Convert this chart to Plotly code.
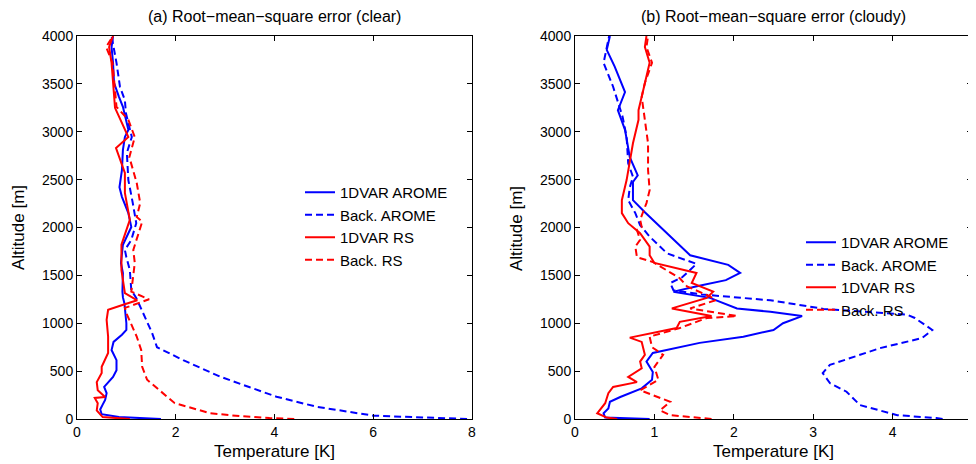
import plotly.graph_objects as go

# ---------------- data ----------------
# (a) clear
clear_1dvar_arome_alt = [0, 20, 50, 100, 150, 200, 270, 335, 440, 510, 615, 720, 805, 880, 930, 1000, 1210, 1270, 1330, 1525, 1630, 1820, 1940, 2005, 2150, 2320, 2420, 2600, 2810, 2945, 3020, 3260, 3365, 3510, 3720, 3885, 4000]
clear_1dvar_arome_T = [1.70, 0.85, 0.50, 0.47, 0.52, 0.57, 0.60, 0.55, 0.73, 0.80, 0.80, 0.70, 0.74, 0.91, 1.00, 1.00, 0.96, 0.93, 0.92, 0.93, 0.89, 0.93, 1.04, 1.10, 1.04, 0.91, 0.86, 0.91, 0.93, 0.97, 1.04, 0.93, 0.85, 0.75, 0.73, 0.70, 0.73]

clear_back_arome_alt = [0, 15, 35, 128, 233, 331, 442, 615, 750, 900, 1100, 1265, 1345, 1555, 1690, 1765, 1870, 2045, 2255, 2495, 2780, 2945, 3195, 3330, 3470, 3720, 4000]
clear_back_arome_T = [7.90, 7.00, 6.00, 4.85, 4.04, 3.50, 2.90, 2.15, 1.62, 1.52, 1.34, 1.20, 1.10, 1.07, 1.00, 0.97, 1.10, 1.20, 1.13, 1.04, 1.01, 1.11, 0.99, 0.97, 0.87, 0.80, 0.70]

clear_1dvar_rs_alt = [0, 20, 90, 165, 220, 230, 300, 385, 480, 545, 690, 860, 1035, 1140, 1190, 1240, 1315, 1420, 1555, 1820, 2080, 2360, 2570, 2830, 2945, 3250, 3500, 3720, 3885, 4000]
clear_1dvar_rs_T = [1.07, 0.52, 0.40, 0.42, 0.36, 0.57, 0.42, 0.40, 0.50, 0.50, 0.63, 0.63, 0.60, 0.63, 0.92, 1.22, 0.97, 0.94, 0.90, 0.90, 1.07, 0.97, 0.97, 0.79, 1.04, 0.77, 0.74, 0.70, 0.65, 0.73]

clear_back_rs_alt = [0, 10, 30, 60, 165, 300, 410, 545, 720, 860, 960, 1105, 1160, 1250, 1330, 1630, 1765, 1940, 2060, 2110, 2255, 2465, 2735, 2945, 3125, 3260, 3510, 3720, 3885, 4000]
clear_back_rs_T = [4.40, 3.90, 3.30, 2.70, 1.98, 1.68, 1.42, 1.32, 1.30, 1.21, 1.12, 1.00, 0.97, 1.46, 1.10, 1.17, 1.14, 1.24, 1.32, 1.21, 1.28, 1.21, 1.06, 1.17, 1.04, 0.80, 0.75, 0.72, 0.59, 0.73]

# (b) cloudy
cloudy_1dvar_arome_alt = [0, 15, 60, 110, 180, 230, 320, 410, 490, 600, 690, 720, 795, 860, 930, 1000, 1075, 1120, 1155, 1265, 1330, 1390, 1450, 1525, 1610, 1710, 1905, 2005, 2160, 2285, 2475, 2545, 2735, 3020, 3225, 3415, 3680, 3855, 4000]
cloudy_1dvar_arome_T = [0.94, 0.38, 0.36, 0.42, 0.44, 0.57, 0.84, 0.97, 0.98, 0.90, 0.98, 1.16, 1.57, 2.12, 2.50, 2.62, 2.86, 2.46, 2.04, 1.70, 1.24, 1.55, 1.90, 2.08, 1.93, 1.45, 1.20, 1.07, 0.88, 0.73, 0.73, 0.79, 0.69, 0.63, 0.54, 0.63, 0.50, 0.40, 0.44]

cloudy_back_arome_alt = [0, 10, 40, 145, 285, 375, 480, 565, 740, 845, 930, 1055, 1090, 1150, 1240, 1265, 1300, 1345, 1420, 1480, 1620, 1730, 1905, 2025, 2150, 2285, 2420, 2530, 2670, 2945, 3155, 3470, 3720, 4000]
cloudy_back_arome_T = [4.63, 4.55, 4.06, 3.59, 3.42, 3.21, 3.12, 3.21, 3.84, 4.37, 4.50, 4.28, 4.18, 3.13, 2.46, 2.08, 1.60, 1.24, 1.20, 1.35, 1.53, 1.16, 0.94, 0.82, 0.76, 0.67, 0.69, 0.73, 0.67, 0.65, 0.60, 0.48, 0.36, 0.43]

cloudy_1dvar_rs_alt = [0, 15, 60, 165, 270, 335, 385, 440, 530, 600, 670, 805, 850, 950, 1015, 1075, 1155, 1265, 1330, 1420, 1525, 1630, 1710, 1800, 1940, 2045, 2150, 2285, 2495, 2670, 2880, 3125, 3225, 3365, 3575, 3720, 3885, 4000]
cloudy_1dvar_rs_T = [0.53, 0.40, 0.28, 0.38, 0.42, 0.48, 0.78, 0.67, 0.84, 0.82, 0.88, 0.84, 0.69, 1.28, 1.32, 1.72, 1.22, 1.66, 1.74, 1.47, 1.53, 1.00, 0.94, 0.94, 0.82, 0.67, 0.59, 0.59, 0.65, 0.69, 0.73, 0.80, 0.80, 0.84, 0.90, 0.94, 0.88, 0.90]

cloudy_back_rs_alt = [0, 40, 90, 180, 300, 410, 545, 670, 750, 860, 950, 1055, 1075, 1155, 1240, 1280, 1385, 1470, 1640, 1690, 1800, 1870, 1975, 2005, 2080, 2255, 2390, 2600, 2880, 3155, 3365, 3510, 3720, 3885, 4000]
cloudy_back_rs_T = [1.72, 1.20, 1.07, 1.20, 0.82, 1.05, 1.00, 1.11, 0.97, 0.94, 1.32, 1.66, 2.04, 1.45, 1.77, 1.70, 1.41, 1.32, 0.98, 0.78, 0.76, 0.82, 0.78, 0.84, 0.82, 0.90, 0.94, 0.92, 0.92, 0.88, 0.84, 0.88, 0.97, 0.90, 0.92]

series_names = ["1DVAR AROME", "Back. AROME", "1DVAR RS", "Back. RS"]
panel_titles = ["(a) Root\u2212mean\u2212square error (clear)", "(b) Root\u2212mean\u2212square error (cloudy)"]
x_title = "Temperature [K]"
y_title = "Altitude [m]"
left_xticks = [0, 2, 4, 6, 8]
right_xticks = [0, 1, 2, 3, 4, 5]
yticks = [0, 500, 1000, 1500, 2000, 2500, 3000, 3500, 4000]

# ---------------- figure ----------------
W, H = 976, 464
OFF = 8  # page body margin: the figure is drawn 8px right/down of the window corner
FONT = "Liberation Sans, Arial, sans-serif"
BLUE, RED = "#0000ff", "#ff0000"
DASH = "7px,4px"

fig = go.Figure()

panels = [
    ("x", "y", "legend", [
        (clear_1dvar_arome_T, clear_1dvar_arome_alt, BLUE, "solid"),
        (clear_back_arome_T, clear_back_arome_alt, BLUE, DASH),
        (clear_1dvar_rs_T, clear_1dvar_rs_alt, RED, "solid"),
        (clear_back_rs_T, clear_back_rs_alt, RED, DASH),
    ]),
    ("x2", "y2", "legend2", [
        (cloudy_1dvar_arome_T, cloudy_1dvar_arome_alt, BLUE, "solid"),
        (cloudy_back_arome_T, cloudy_back_arome_alt, BLUE, DASH),
        (cloudy_1dvar_rs_T, cloudy_1dvar_rs_alt, RED, "solid"),
        (cloudy_back_rs_T, cloudy_back_rs_alt, RED, DASH),
    ]),
]

for xa, ya, leg, series in panels:
    for name, (xs, ys, col, dash) in zip(series_names, series):
        fig.add_trace(go.Scatter(
            x=xs, y=ys, mode="lines", name=name,
            line=dict(color=col, width=2, dash=dash),
            xaxis=xa, yaxis=ya, legend=leg,
        ))

# screen pixel -> paper coordinate
px_x = lambda p: (p - OFF) / W
px_y = lambda p: 1 - (p - OFF) / H

axis_common = dict(
    showgrid=False, zeroline=False, showline=True, linecolor="black", linewidth=1,
    mirror="ticks", ticks="inside", ticklen=5, tickcolor="black",
    tickfont=dict(family=FONT, size=14, color="black"),
)

left_dom = [px_x(77), px_x(472)]
right_dom = [px_x(575), px_x(972)]
y_dom = [px_y(419), px_y(36)]

fig.update_layout(
    width=W, height=H,
    margin=dict(l=0, r=0, t=0, b=0, autoexpand=False),
    paper_bgcolor="white", plot_bgcolor="white",
    font=dict(family=FONT, color="black"),
    xaxis=dict(domain=left_dom, range=[0, 8], tickvals=left_xticks, anchor="y", **axis_common),
    yaxis=dict(domain=y_dom, range=[0, 4000], tickvals=yticks, anchor="x", **axis_common),
    xaxis2=dict(domain=right_dom, range=[0, 5], tickvals=right_xticks, anchor="y2", **axis_common),
    yaxis2=dict(domain=y_dom, range=[0, 4000], tickvals=yticks, anchor="x2", **axis_common),
    legend=dict(x=px_x(300), y=px_y(176), xanchor="left", yanchor="top",
                bgcolor="rgba(255,255,255,0)", borderwidth=0,
                font=dict(family=FONT, size=15, color="black"), tracegroupgap=0),
    legend2=dict(x=px_x(801), y=px_y(226), xanchor="left", yanchor="top",
                 bgcolor="rgba(255,255,255,0)", borderwidth=0,
                 font=dict(family=FONT, size=15, color="black"), tracegroupgap=0),
    showlegend=True,
)

annos = []
for cx, t in zip([(77 + 472) / 2, (575 + 972) / 2], panel_titles):
    annos.append(dict(text=t, x=px_x(cx), y=px_y(16), xref="paper", yref="paper",
                      xanchor="center", yanchor="middle", showarrow=False,
                      font=dict(family=FONT, size=16, color="black")))
for cx in [(77 + 472) / 2, (575 + 972) / 2]:
    annos.append(dict(text=x_title, x=px_x(cx), y=px_y(451), xref="paper", yref="paper",
                      xanchor="center", yanchor="middle", showarrow=False,
                      font=dict(family=FONT, size=17, color="black")))
for cx in [18, 516]:
    annos.append(dict(text=y_title, x=px_x(cx), y=px_y(228), xref="paper", yref="paper",
                      xanchor="center", yanchor="middle", showarrow=False, textangle=-90,
                      font=dict(family=FONT, size=17, color="black")))
fig.update_layout(annotations=annos)

fig.write_html("out.html")
